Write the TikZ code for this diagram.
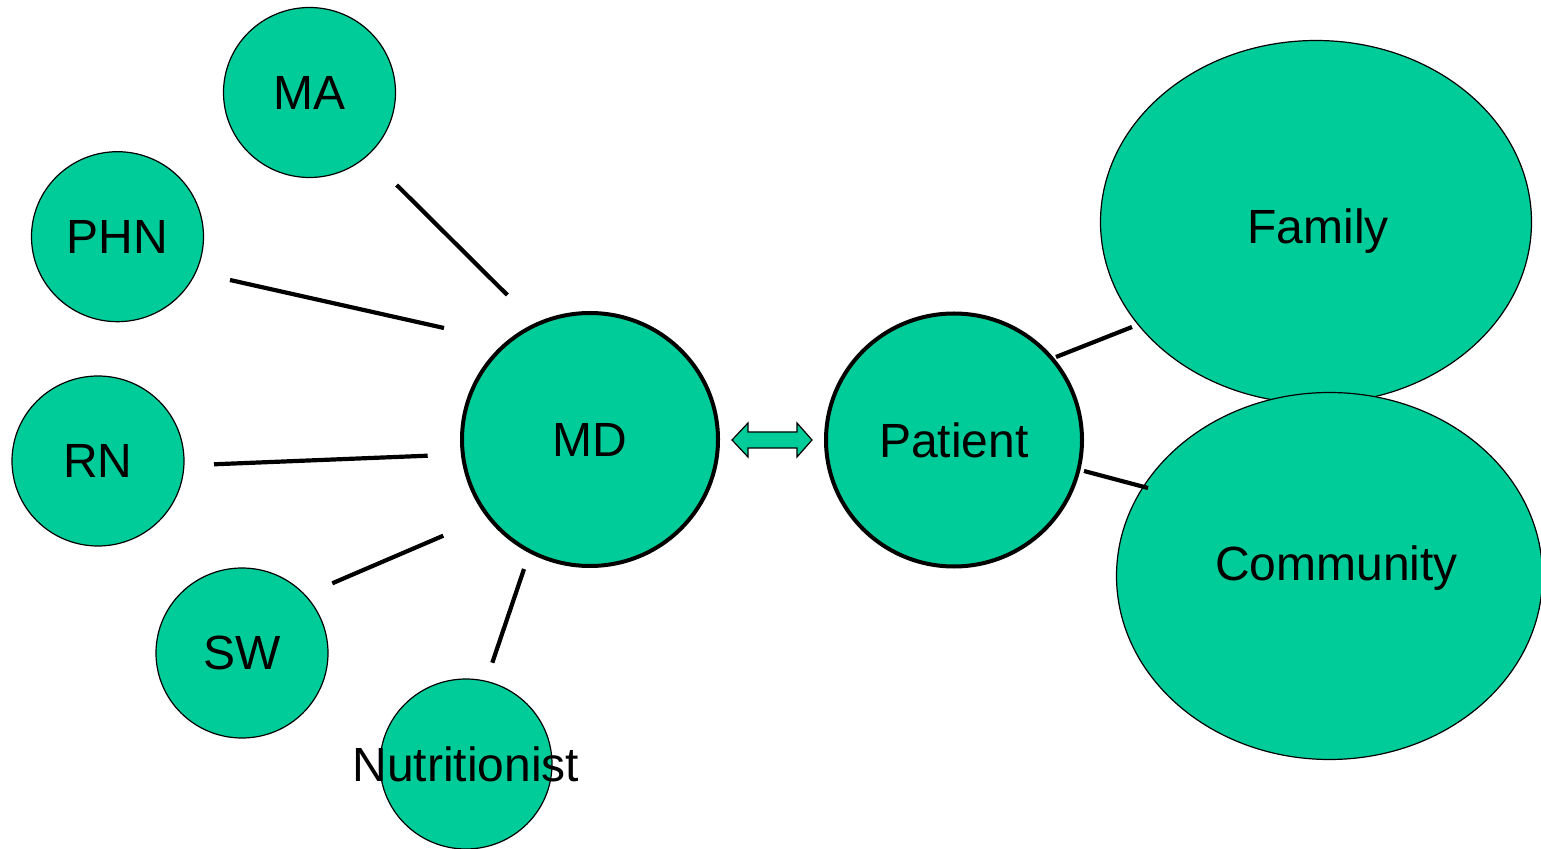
\documentclass[tikz,border=0pt]{standalone}
\usepackage{fontspec}
\setmainfont{Liberation Sans}
\usepackage{tikz}
\usetikzlibrary{shapes.geometric}
\definecolor{teamgreen}{RGB}{0,204,153}
\tikzset{
    blob/.style={ellipse, draw, fill=teamgreen, inner sep=0pt, line width=0.6pt},
    small/.style={blob, minimum width=86pt, minimum height=85pt},
    big/.style={blob, line width=2pt, minimum width=128pt, minimum height=126.5pt},
    link/.style={line width=2.1pt},
}

\begin{document}
\begin{tikzpicture}[x=0.5pt, y=-0.5pt, font=\fontsize{24}{28}\selectfont]
\useasboundingbox (0,0) rectangle (1541,849);
% care team round the doctor
\node[small] (ma) at (309.5,92.5) {MA};
\node[small] (phn) at (117.5,236.7) {PHN};
\node[small] (rn) at (98,461) {RN};
\node[small] (sw) at (242,653) {SW};
\node[small, label={center:Nutritionist}] (nutri) at (466,764) {};
\node[big] (md) at (590,439.5) {MD};
\node[big] (patient) at (954,440) {Patient};
\node[blob, minimum width=215.5pt, minimum height=181.5pt,
      label={[xshift=1pt, yshift=-4.5pt]center:Family}] (family) at (1316,222) {};
\node[blob, minimum width=213pt, minimum height=183.5pt,
      label={[xshift=3.5pt, yshift=4pt]center:Community}] (community) at (1329.5,576) {};
% line ends
\coordinate (ma-a) at (396.7,185);   \coordinate (ma-b) at (507.3,295);
\coordinate (phn-a) at (230,280);    \coordinate (phn-b) at (444,328);
\coordinate (rn-a) at (214,464.3);   \coordinate (rn-b) at (427.7,455.7);
\coordinate (sw-a) at (332.3,583.3); \coordinate (sw-b) at (443.3,535.7);
\coordinate (nutri-a) at (492.3,662.7); \coordinate (nutri-b) at (524,569);
\coordinate (family-a) at (1056,357); \coordinate (family-b) at (1132,327);
\coordinate (community-a) at (1084,471); \coordinate (community-b) at (1148,488);
\draw[link] (ma-a) -- (ma-b);
\draw[link] (phn-a) -- (phn-b);
\draw[link] (rn-a) -- (rn-b);
\draw[link] (sw-a) -- (sw-b);
\draw[link] (nutri-a) -- (nutri-b);
\draw[link] (family-a) -- (family-b);
\draw[link] (community-a) -- (community-b);
% two-way arrow between MD and patient
\coordinate (arrow-l) at (732,440);
\coordinate (arrow-r) at (812,440);
\draw[fill=teamgreen, line width=0.6pt] (arrow-l) -- ++(16,-17) -- ++(0,9) -- ++(49,0)
    -- ++(0,-9) -- (arrow-r) -- ++(-15,17) -- ++(0,-9) -- ++(-49,0) -- ++(0,9) -- cycle;
\end{tikzpicture}
\end{document}
